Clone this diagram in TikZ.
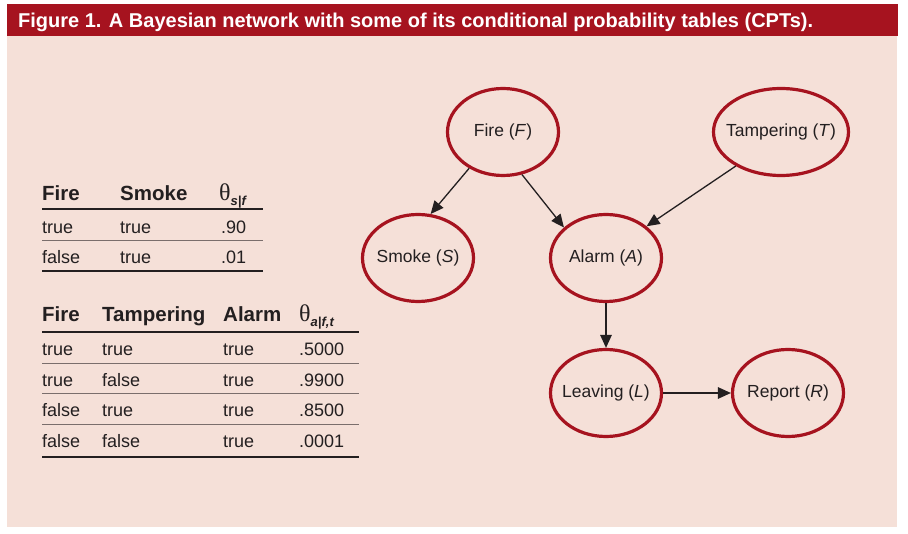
\documentclass[tikz,border=0pt]{standalone}
\usepackage{fontspec}
\setmainfont{Liberation Sans}
\newfontfamily\thetafont{Liberation Serif}
\usepackage{xcolor}
\usepackage{tikz}
\usetikzlibrary{positioning,shapes.geometric,arrows.meta}
\definecolor{cptpink}{HTML}{F5E0D8}
\definecolor{cptred}{HTML}{A6131F}
\definecolor{cptink}{HTML}{231F20}
\definecolor{cptrule}{HTML}{7A6E6C}
% theta with a bold italic subscript, as in the CPT headers
\newcommand{\cpttheta}[1]{{\thetafont\fontsize{24}{26}\selectfont\mdseries θ}%
  \raisebox{-0.4ex}{\fontsize{13}{14}\selectfont\bfseries\itshape #1}}
\tikzset{
  % --- network variables -----------------------------------------------------
  var/.style={ellipse,draw=cptred,line width=3.2pt,minimum width=111pt,
              minimum height=87pt,inner xsep=-12pt,inner ysep=0pt,text=cptink,
              font=\fontsize{17.5}{20}\selectfont},
  dep/.style={-{Triangle[length=13pt,width=11.5pt]},line width=1.3pt,cptink},
  % --- CPT cells -------------------------------------------------------------
  head/.style={anchor=base west,inner sep=0pt,text=cptink,
               font=\fontsize{20.5}{24}\selectfont\bfseries},
  cell/.style={anchor=base west,inner sep=0pt,text=cptink,
               font=\fontsize{18}{20}\selectfont},
  thickrule/.style={line width=2.6pt,cptink},
  thinrule/.style={line width=1pt,cptrule},
}
\begin{document}
\begin{tikzpicture}[x=1pt, y=-1pt]
  \useasboundingbox (0,0) rectangle (908,534);
  % ---- panel and caption bar ----
  \fill[cptpink] (7,36) rectangle (897,527);
  \fill[cptred] (7,4) rectangle (898,36);
  \node[anchor=base west,inner sep=0pt,text=white,
        font=\fontsize{20}{22}\selectfont\bfseries] (caption) at (18,28)
        {Figure 1. A Bayesian network with some of its conditional probability tables (CPTs).};

  % ---- the network ----
  \node[var] (fire)  at (503,132) {Fire (\textit{F})};
  \node[var,minimum width=135pt] (tamp) at (781,132) {Tampering (\textit{T})};
  \node[var] (smoke) at (418,258) {Smoke (\textit{S})};
  \node[var] (alarm) at (606,258) {Alarm (\textit{A})};
  \node[var] (leave) at (606,393) {Leaving (\textit{L})};
  \node[var] (report) at (788,393) {Report (\textit{R})};

  \draw[dep] (fire.227) -- (smoke.74);
  \draw[dep] (fire.294) -- (alarm.144);
  \draw[dep] (tamp.217) -- (alarm.38);
  \draw[dep] (alarm) -- (leave);
  \draw[dep] (leave) -- (report);

  % ---- CPT for Smoke ----
  \node[head] (sHf) at (42,201)  {Fire};
  \node[head] (sHs) at (120,201) {Smoke};
  \node[head] (sHp) at (219,201) {\cpttheta{s|f}};
  \node[cell] (s1f) at (42,234) {true};  \node[cell] (s1s) at (120,234) {true}; \node[cell] (s1p) at (221,234) {.90};
  \node[cell] (s2f) at (42,264) {false}; \node[cell] (s2s) at (120,264) {true}; \node[cell] (s2p) at (221,264) {.01};
  \draw[thickrule] (42,209) -- (263,209);
  \draw[thinrule]  (42,241) -- (263,241);
  \draw[thickrule] (42,271) -- (263,271);

  % ---- CPT for Alarm ----
  \node[head] (aHf) at (42,322)  {Fire};
  \node[head] (aHt) at (102,322) {Tampering};
  \node[head] (aHa) at (223,322) {Alarm};
  \node[head] (aHp) at (299,322) {\cpttheta{a|f,t}};
  \node[cell] (a1f) at (42,356) {true};  \node[cell] (a1t) at (102,356) {true};  \node[cell] (a1a) at (223,356) {true}; \node[cell] (a1p) at (299,356) {.5000};
  \node[cell] (a2f) at (42,387) {true};  \node[cell] (a2t) at (102,387) {false}; \node[cell] (a2a) at (223,387) {true}; \node[cell] (a2p) at (299,387) {.9900};
  \node[cell] (a3f) at (42,417) {false}; \node[cell] (a3t) at (102,417) {true};  \node[cell] (a3a) at (223,417) {true}; \node[cell] (a3p) at (299,417) {.8500};
  \node[cell] (a4f) at (42,448) {false}; \node[cell] (a4t) at (102,448) {false}; \node[cell] (a4a) at (223,448) {true}; \node[cell] (a4p) at (299,448) {.0001};
  \draw[thickrule] (42,332) -- (359,332);
  \draw[thinrule]  (42,364) -- (359,364);
  \draw[thinrule]  (42,394) -- (359,394);
  \draw[thinrule]  (42,425) -- (359,425);
  \draw[thickrule] (42,457) -- (359,457);
\end{tikzpicture}
\end{document}
